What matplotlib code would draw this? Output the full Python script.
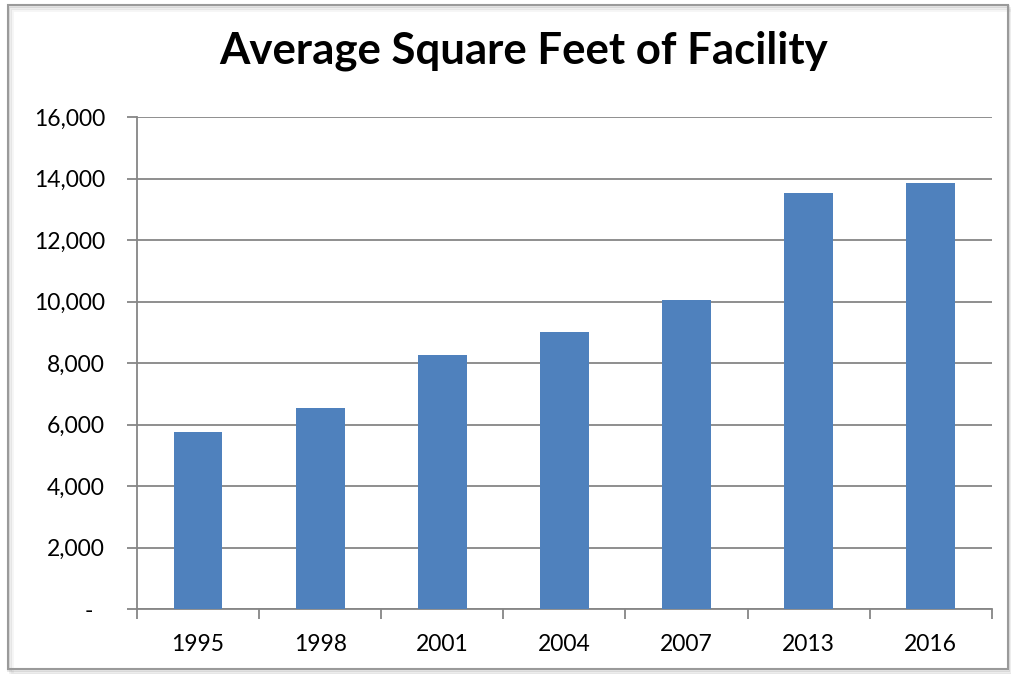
import matplotlib.pyplot as plt
from matplotlib.patches import Rectangle
from matplotlib.ticker import FixedLocator

years = ["1995", "1998", "2001", "2004", "2007", "2013", "2016"]
avg_sqft = [5750, 6540, 8260, 9010, 10050, 13540, 13850]
y_ticks = [0, 2000, 4000, 6000, 8000, 10000, 12000, 14000, 16000]
y_labels = ["-  "] + ["{:,}".format(v) for v in y_ticks[1:]]

plt.rcParams['font.family'] = ['Lato', 'DejaVu Sans']
grid_col = "#868686"

fig = plt.figure(figsize=(10.12, 6.74), dpi=100)
ax = fig.add_axes([0.1354, 0.0964, 0.8446, 0.73])

# Excel-like frame with a soft shadow
for i, a in enumerate([0.10, 0.07, 0.04]):
    fig.patches.append(Rectangle((0.008 + 0.002 * i, 0.006 - 0.003 * i), 0.988, 0.985,
                                 transform=fig.transFigure, fill=False,
                                 edgecolor="black", alpha=a, lw=2, zorder=0))
fig.patches.append(Rectangle((0.008, 0.008), 0.988, 0.985, transform=fig.transFigure,
                             fill=False, edgecolor="#9a9a9a", lw=1.5, zorder=1))

x = range(len(years))
ax.bar(x, avg_sqft, width=0.4, color="#4F81BD", zorder=3)

ax.set_xlim(-0.5, len(years) - 0.5)
ax.set_ylim(0, 16000)
ax.set_yticks(y_ticks)
ax.set_yticklabels(y_labels)
ax.set_xticks(list(x))
ax.set_xticklabels(years)
ax.xaxis.set_minor_locator(FixedLocator([i - 0.5 for i in range(len(years) + 1)]))

ax.tick_params(axis='x', which='major', length=0, pad=18, labelsize=16.5)
ax.tick_params(axis='x', which='minor', length=7, width=1.3, color=grid_col)
ax.tick_params(axis='y', length=7, width=1.3, color=grid_col, pad=16, labelsize=16.5)

ax.grid(axis='y', color=grid_col, lw=1.3, zorder=0)
for s in ['top', 'right']:
    ax.spines[s].set_visible(False)
for s in ['left', 'bottom']:
    ax.spines[s].set_color(grid_col)
    ax.spines[s].set_linewidth(1.3)

fig.text(0.517, 0.925, "Average Square Feet of Facility", ha='center', va='center',
         fontsize=31.5, fontweight='bold')

fig.savefig("out.png", dpi=100)
